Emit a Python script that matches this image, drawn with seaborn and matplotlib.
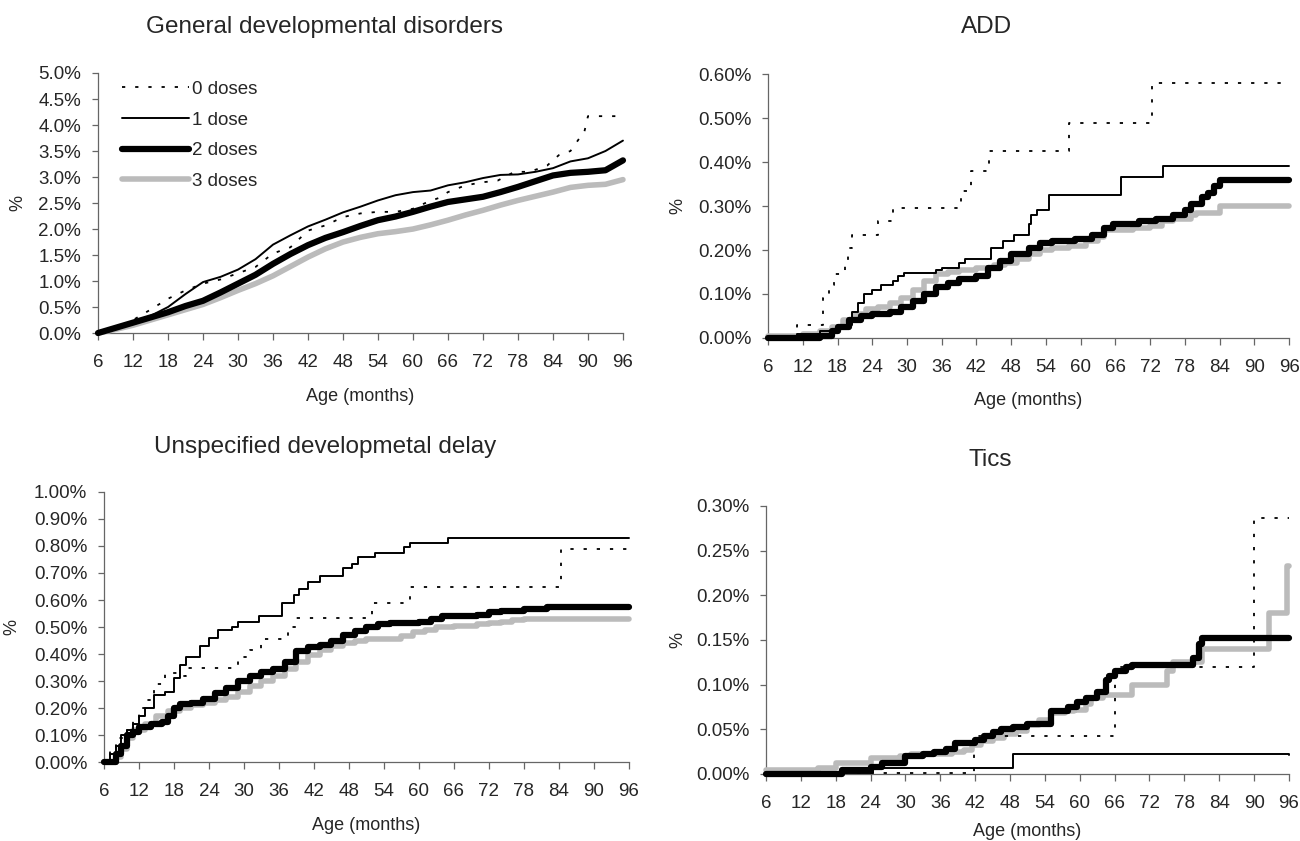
import matplotlib
matplotlib.use('Agg')
import matplotlib.pyplot as plt
from matplotlib.ticker import PercentFormatter, MultipleLocator
import seaborn as sns

# ---- General developmental disorders (values in %)
gdd_age = [6, 9, 12, 15, 18, 21, 24, 27, 30, 33, 36, 39, 42, 45, 48, 51, 54, 57,
           60, 63, 66, 69, 72, 75, 78, 81, 84, 87, 90, 93, 96]
gdd_1 = [0, 0.1, 0.21, 0.33, 0.5, 0.75, 0.98, 1.08, 1.22, 1.42, 1.7, 1.88, 2.05, 2.18,
         2.32, 2.43, 2.55, 2.65, 2.71, 2.74, 2.84, 2.9, 2.98, 3.04, 3.05, 3.1, 3.17,
         3.3, 3.36, 3.5, 3.7]
gdd_2 = [0, 0.1, 0.2, 0.3, 0.4, 0.52, 0.62, 0.78, 0.95, 1.12, 1.33, 1.52, 1.69, 1.83,
         1.94, 2.06, 2.17, 2.24, 2.33, 2.43, 2.52, 2.57, 2.62, 2.71, 2.81, 2.92, 3.03,
         3.08, 3.1, 3.13, 3.32]
gdd_3 = [0, 0.07, 0.15, 0.25, 0.35, 0.45, 0.55, 0.68, 0.82, 0.95, 1.1, 1.28, 1.46, 1.62,
         1.75, 1.84, 1.91, 1.95, 2.0, 2.08, 2.17, 2.27, 2.36, 2.46, 2.55, 2.63, 2.71,
         2.8, 2.84, 2.86, 2.95]
gdd_age_0 = [6, 9, 12, 15, 18, 21, 24, 27, 30, 33, 36, 39, 42, 45, 48, 51, 54, 57, 60,
             62.5, 64.5, 66, 69, 72, 74.5, 77.4, 80, 83, 85, 87, 88.5, 89.3, 90, 96]
gdd_0 = [0, 0.1, 0.25, 0.45, 0.66, 0.82, 0.95, 1.03, 1.15, 1.27, 1.53, 1.65, 1.97, 2.07,
         2.23, 2.3, 2.33, 2.33, 2.39, 2.52, 2.6, 2.71, 2.84, 2.9, 2.93, 3.1, 3.1, 3.22,
         3.42, 3.5, 3.74, 3.83, 4.17, 4.17]

# ---- ADD
add_age_0 = [6, 11, 15.5, 16.5, 17.4, 19.3, 19.8, 20.5, 25, 27.5, 39.3, 41, 44.1, 57.9, 72.3, 96]
add_0 = [0, 0.029, 0.09, 0.12, 0.145, 0.175, 0.205, 0.235, 0.265, 0.295, 0.335, 0.38,
         0.425, 0.488, 0.58, 0.58]
add_age_1 = [6, 11, 15, 18, 20.5, 21.5, 22.5, 24, 25.5, 27.5, 28.5, 29.5, 35, 36, 39, 40,
             44.5, 46.5, 48.5, 51, 51.5, 52.5, 54.5, 67, 74.3, 96]
add_1 = [0, 0.01, 0.015, 0.03, 0.06, 0.08, 0.1, 0.11, 0.12, 0.13, 0.14, 0.148, 0.155,
         0.16, 0.17, 0.18, 0.205, 0.22, 0.234, 0.26, 0.28, 0.29, 0.324, 0.365, 0.39, 0.39]
add_age_2 = [6, 12, 15, 17, 18, 20, 22, 24, 27, 29, 31, 33, 35, 37, 39, 42, 44, 46, 48,
             51, 53, 55, 59, 62, 64, 65.5, 70, 73, 76, 78, 79, 81, 82, 83, 84, 96]
add_2 = [0, 0, 0.005, 0.015, 0.025, 0.04, 0.05, 0.055, 0.06, 0.07, 0.085, 0.1, 0.115,
         0.125, 0.135, 0.14, 0.16, 0.175, 0.19, 0.205, 0.215, 0.22, 0.225, 0.235, 0.25,
         0.26, 0.265, 0.27, 0.28, 0.29, 0.305, 0.32, 0.33, 0.345, 0.36, 0.36]
add_age_3 = [6, 12, 15, 17, 19, 21, 23, 25, 27, 29, 31, 33, 35, 37, 39, 42, 45, 47, 49,
             51, 53, 55, 58, 61, 63, 64, 69, 72, 74, 76, 79, 80, 84, 96]
add_3 = [0.005, 0.01, 0.015, 0.025, 0.04, 0.055, 0.065, 0.07, 0.08, 0.09, 0.11, 0.13,
         0.145, 0.15, 0.155, 0.16, 0.165, 0.17, 0.18, 0.19, 0.2, 0.205, 0.21, 0.22, 0.23,
         0.245, 0.25, 0.255, 0.265, 0.27, 0.28, 0.285, 0.3, 0.3]

# ---- Unspecified developmental delay
udd_age_0 = [6, 7, 8, 10, 11, 12, 13, 14.5, 16.5, 18.5, 20, 29, 31, 33, 37.5, 39, 52,
             58.5, 84.3, 96]
udd_0 = [0, 0.05, 0.09, 0.12, 0.16, 0.2, 0.23, 0.29, 0.33, 0.32, 0.35, 0.39, 0.415,
         0.456, 0.5, 0.535, 0.59, 0.65, 0.79, 0.79]
udd_age_1 = [6, 7, 8, 9, 10, 11, 12, 13, 14.5, 16.5, 18, 19, 20, 22.5, 24, 25.5, 28, 29,
             32.5, 36.5, 38.5, 39.5, 41, 43, 47, 48.5, 49.5, 52.5, 57.5, 58.5, 65, 96]
udd_1 = [0, 0.03, 0.06, 0.1, 0.12, 0.14, 0.17, 0.2, 0.25, 0.26, 0.31, 0.36, 0.39, 0.43,
         0.46, 0.49, 0.5, 0.52, 0.54, 0.59, 0.62, 0.64, 0.665, 0.69, 0.72, 0.735, 0.76,
         0.775, 0.795, 0.81, 0.83, 0.83]
udd_age_2 = [6, 8, 9, 10, 11, 12, 14, 16, 17, 18, 19, 21, 23, 25, 27, 29, 31, 33, 35, 37,
             39, 41, 43, 45, 47, 49, 51, 53, 55, 60, 62, 64, 70, 72, 74, 78, 82, 96]
udd_2 = [0, 0.03, 0.06, 0.1, 0.11, 0.13, 0.14, 0.15, 0.17, 0.2, 0.215, 0.22, 0.235,
         0.255, 0.275, 0.3, 0.32, 0.335, 0.345, 0.37, 0.41, 0.425, 0.435, 0.45, 0.47,
         0.485, 0.5, 0.51, 0.515, 0.52, 0.53, 0.54, 0.545, 0.555, 0.56, 0.565, 0.575, 0.575]
udd_age_3 = [6, 8, 9, 10, 11, 13, 15, 17, 19, 21, 23, 25, 27, 29, 31, 33, 35, 37, 39, 41,
             43, 45, 47, 49, 51, 55, 57, 59, 61, 63, 66, 70, 72, 74, 76, 78, 96]
udd_3 = [0, 0.02, 0.05, 0.09, 0.12, 0.14, 0.17, 0.19, 0.2, 0.21, 0.22, 0.23, 0.24, 0.26,
         0.28, 0.3, 0.32, 0.345, 0.37, 0.395, 0.415, 0.43, 0.44, 0.45, 0.455, 0.455,
         0.465, 0.48, 0.49, 0.5, 0.505, 0.51, 0.515, 0.52, 0.525, 0.53, 0.53]

# ---- Tics
tic_age_0 = [6, 19, 41.8, 66, 90, 96]
tic_0 = [0, 0.001, 0.042, 0.12, 0.287, 0.287]
tic_age_1 = [6, 15, 24.5, 48.5, 96]
tic_1 = [0, 0.001, 0.007, 0.022, 0.021]
tic_age_2 = [6, 14, 19, 24, 26, 30, 33, 35, 37, 38.5, 42, 43.5, 45, 46.5, 48.5, 51, 55,
             58, 59.5, 61, 63, 64.5, 65, 66, 68, 69, 79.5, 80.5, 81, 96]
tic_2 = [0, 0, 0.005, 0.008, 0.012, 0.02, 0.022, 0.025, 0.028, 0.035, 0.038, 0.042,
         0.047, 0.05, 0.053, 0.056, 0.07, 0.075, 0.08, 0.085, 0.092, 0.105, 0.11, 0.115,
         0.12, 0.122, 0.13, 0.145, 0.152, 0.152]
tic_age_3 = [6, 15, 18, 24, 29, 31, 38, 40, 41.5, 43, 45, 47, 49, 51, 53, 55, 57.5, 59,
             61, 62, 64, 69, 75, 76, 81, 92.5, 95.7, 96]
tic_3 = [0.005, 0.007, 0.012, 0.018, 0.02, 0.022, 0.025, 0.027, 0.032, 0.037, 0.04,
         0.045, 0.048, 0.055, 0.06, 0.068, 0.07, 0.072, 0.078, 0.085, 0.088, 0.1, 0.115,
         0.125, 0.14, 0.18, 0.233, 0.233]

labels = ['0 doses', '1 dose', '2 doses', '3 doses']
month_ticks = list(range(6, 97, 6))

sns.set_style('ticks')
plt.rcParams['font.family'] = ['Liberation Sans', 'DejaVu Sans']

fig = plt.figure(figsize=(13, 8.41), dpi=100)

panels = [
    ('General developmental disorders', [0.0754, 0.604, 0.4038, 0.3092], 5.0, 0.5, 1,
     [(gdd_age_0, gdd_0), (gdd_age, gdd_1), (gdd_age, gdd_2), (gdd_age, gdd_3)],
     False, (0.25, 0.968), -0.137, 12),
    ('ADD', [0.5908, 0.5981, 0.4008, 0.3139], 0.6, 0.1, 2,
     [(add_age_0, add_0), (add_age_1, add_1), (add_age_2, add_2), (add_age_3, add_3)],
     True, (0.759, 0.968), -0.157, 12),
    ('Unspecified developmetal delay', [0.08, 0.0939, 0.4038, 0.3211], 1.0, 0.1, 2,
     [(udd_age_0, udd_0), (udd_age_1, udd_1), (udd_age_2, udd_2), (udd_age_3, udd_3)],
     True, (0.25, 0.4685), -0.16, 12),
    ('Tics', [0.5892, 0.0797, 0.4023, 0.3187], 0.3, 0.05, 2,
     [(tic_age_0, tic_0), (tic_age_1, tic_1), (tic_age_2, tic_2), (tic_age_3, tic_3)],
     True, (0.7615, 0.453), -0.153, 8),
]

styles = [
    dict(color='black', linewidth=1.3, linestyle=(0, (1.8, 5.5))),
    dict(color='black', linewidth=1.4, linestyle='-'),
    dict(color='black', linewidth=4.5, linestyle='-'),
    dict(color='#bbbbbb', linewidth=4.0, linestyle='-'),
]
draw_order = [3, 2, 1, 0]

for i, (title, pos, ymax, ystep, dec, series, steps, tpos, ylab_x, xpad) in enumerate(panels):
    ax = fig.add_axes(pos)
    for k in draw_order:
        xs, ys = series[k]
        kw = dict(styles[k])
        if steps:
            kw['drawstyle'] = 'steps-post'
        sns.lineplot(x=xs, y=ys, ax=ax, estimator=None, label=labels[k],
                     clip_on=False, zorder=3 + (3 - k), legend=False, **kw)
    ax.set_xlim(6, 96)
    ax.set_ylim(0, ymax)
    ax.set_xticks(month_ticks)
    ax.yaxis.set_major_locator(MultipleLocator(ystep))
    ax.yaxis.set_major_formatter(PercentFormatter(xmax=100, decimals=dec))
    sns.despine(ax=ax)
    for sp in ['left', 'bottom']:
        ax.spines[sp].set_color('#666666')
        ax.spines[sp].set_linewidth(0.9)
    ax.tick_params(axis='x', labelsize=13.5, length=5, width=0.9, color='#666666', pad=10)
    ax.tick_params(axis='y', labelsize=13.5, length=4, width=0.9, color='#666666', pad=8)
    ax.set_xlabel('Age (months)', fontsize=13, labelpad=xpad)
    ax.set_ylabel('%', fontsize=13)
    ax.yaxis.set_label_coords(ylab_x, 0.5)
    fig.text(tpos[0], tpos[1], title, fontsize=17.5, ha='center', va='center')
    if i == 0:
        handles, labs = ax.get_legend_handles_labels()
        order = [labs.index(l) for l in labels]
        ax.legend([handles[j] for j in order], [labs[j] for j in order],
                  loc='upper left', bbox_to_anchor=(0.045, 0.97), frameon=False,
                  fontsize=13.5, handlelength=3.6, handletextpad=0.15,
                  labelspacing=0.72, borderaxespad=0, borderpad=0)

fig.savefig('out.png', dpi=100)
